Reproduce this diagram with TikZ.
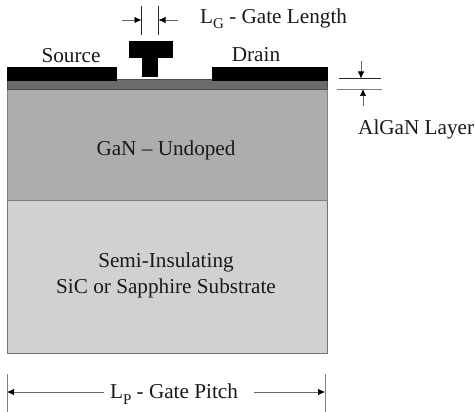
\documentclass[tikz,border=0pt]{standalone}
\usepackage{fontspec}
\setmainfont{Liberation Serif}
\usetikzlibrary{arrows.meta}
\newcommand{\lowsub}[1]{\raisebox{-0.55ex}{\fontsize{15}{16}\selectfont #1}}
\tikzset{
  metal/.style={fill=black,draw=none},
  dimline/.style={draw=black!85,line width=0.6pt},
  arrowline/.style={draw=black!60,line width=0.7pt,-{Latex[length=7pt,width=6.5pt,black]}},
  lbl/.style={inner sep=0pt,font=\fontsize{21.2}{26}\selectfont,text=black!90},
}
\begin{document}
\begin{tikzpicture}[x=1pt,y=-1pt]
\useasboundingbox (0,0) rectangle (475,412);
\fill[white] (0,0) rectangle (475,412);
% layers
\filldraw[fill=black!18,draw=black!55,line width=0.8pt] (7,200) rectangle (327,353);
\filldraw[fill=black!32,draw=black!50,line width=0.8pt] (7,89) rectangle (327,200);
\filldraw[fill=black!58,draw=black!70,line width=0.8pt] (7,79) rectangle (327,89);
% metal
\fill[metal] (7,67) rectangle (117,81);
\fill[metal] (212,67) rectangle (328,81);
\fill[metal] (129,41) rectangle (173,58);
\fill[metal] (142,58) rectangle (158,77);
% labels
\node[lbl] (source) at (71,56) {Source};
\node[lbl] (drain) at (256,55) {Drain};
\node[lbl] (gan) at (166,150) {GaN -- Undoped};
\node[lbl,align=center] (sub) at (166,275) {Semi-Insulating\\SiC or Sapphire Substrate};
\node[lbl,anchor=west] (lg) at (200,19) {L\lowsub{G} - Gate Length};
\node[lbl,anchor=west] (algan) at (358,129) {AlGaN Layer};
\node[lbl] (lp) at (174,394) {L\lowsub{P} - Gate Pitch};
% gate length dimension
\coordinate (g1t) at (141.5,6); \coordinate (g1b) at (141.5,35);
\coordinate (g2t) at (158.5,6); \coordinate (g2b) at (158.5,35);
\draw[dimline] (g1t) -- (g1b);
\draw[dimline] (g2t) -- (g2b);
\coordinate (ga) at (122,20); \coordinate (gb) at (178,20);
\draw[arrowline] (ga) -- (g1t |- ga);
\draw[arrowline] (gb) -- (g2t |- gb);
% AlGaN dimension
\coordinate (a1l) at (339,78.5); \coordinate (a1r) at (381,78.5);
\coordinate (a2l) at (337,89); \coordinate (a2r) at (382,89);
\draw[dimline] (a1l) -- (a1r);
\draw[draw=black!50,line width=0.8pt] (a2l) -- (a2r);
\coordinate (at) at (361,61); \coordinate (ab) at (363,106);
\draw[arrowline] (at) -- (at |- a1l);
\draw[arrowline] (ab) -- (ab |- a2l);
% pitch dimension
\coordinate (p1t) at (7,374); \coordinate (p1b) at (7,412);
\coordinate (p2t) at (325,374); \coordinate (p2b) at (325,412);
\draw[draw=black!50,line width=0.8pt] (p1t) -- (p1b);
\draw[draw=black!50,line width=0.8pt] (p2t) -- (p2b);
\coordinate (pa) at (104,392); \coordinate (pb) at (254,392);
\draw[arrowline] (pa) -- (p1t |- pa);
\draw[arrowline] (pb) -- (p2t |- pb);
\end{tikzpicture}
\end{document}
